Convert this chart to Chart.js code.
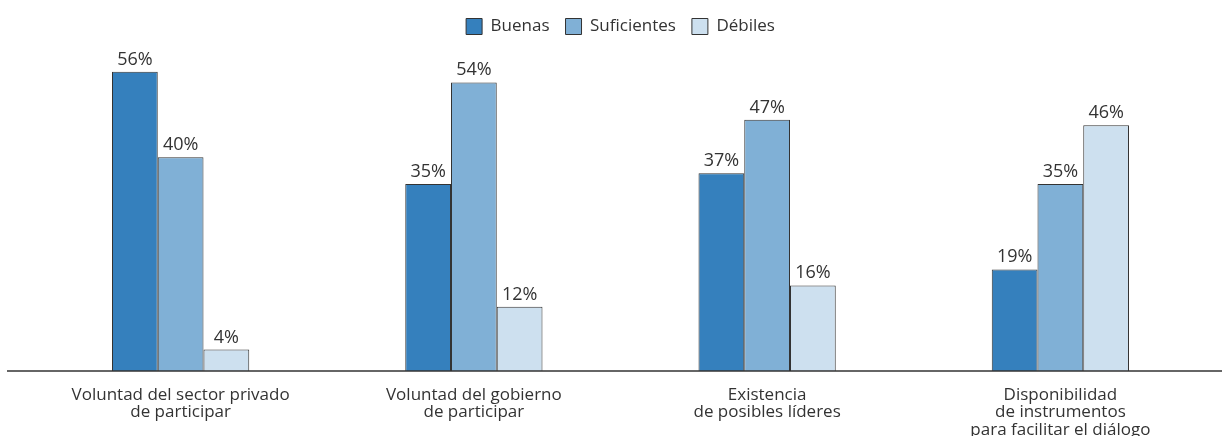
<!DOCTYPE html>
<html>
<head>
<meta charset="utf-8">
<script src="https://cdn.jsdelivr.net/npm/chart.js@4.4.1/dist/chart.umd.min.js"></script>
<style>
  html, body { margin: 0; padding: 0; background: #fff; }
  #wrap { width: 1222px; height: 436px; }
</style>
</head>
<body>
<div id="wrap"><canvas id="chart"></canvas></div>
<script>
const categories = [
    ['Voluntad del sector privado', 'de participar'],
    ['Voluntad del gobierno', 'de participar'],
    ['Existencia', 'de posibles líderes'],
    ['Disponibilidad', 'de instrumentos', 'para facilitar el diálogo']
];
const seriesNames = ['Buenas', 'Suficientes', 'Débiles'];
const buenas = [56, 35, 37, 19];
const suficientes = [40, 54, 47, 35];
const debiles = [4, 12, 16, 46];

const colors = ['#3580bd', '#80b0d6', '#cde0ef'];
const FONT = '"Open Sans", "Noto Sans", sans-serif';

// value labels above each bar
const valueLabels = {
    id: 'valueLabels',
    afterDatasetsDraw(chart) {
        const ctx = chart.ctx;
        ctx.save();
        ctx.font = '18px ' + FONT;
        ctx.fillStyle = '#333';
        ctx.textAlign = 'center';
        ctx.textBaseline = 'alphabetic';
        chart.data.datasets.forEach((ds, i) => {
            chart.getDatasetMeta(i).data.forEach((bar, j) => {
                ctx.fillText(ds.data[j] + '%', bar.x, bar.y - 7);
            });
        });
        ctx.restore();
    }
};

// baseline across the whole width
const baseLine = {
    id: 'baseLine',
    afterDatasetsDraw(chart) {
        const ctx = chart.ctx;
        const y = chart.scales.y.getPixelForValue(0);
        ctx.save();
        ctx.strokeStyle = '#333';
        ctx.lineWidth = 1.5;
        ctx.beginPath();
        ctx.moveTo(7, y);
        ctx.lineTo(chart.width, y);
        ctx.stroke();
        ctx.restore();
    }
};

new Chart(document.getElementById('chart'), {
    type: 'bar',
    data: {
        labels: categories,
        datasets: [
            { label: seriesNames[0], data: buenas, backgroundColor: colors[0] },
            { label: seriesNames[1], data: suficientes, backgroundColor: colors[1] },
            { label: seriesNames[2], data: debiles, backgroundColor: colors[2] }
        ].map(d => Object.assign(d, {
            borderColor: '#333',
            borderWidth: 1,
            barPercentage: 1,
            categoryPercentage: 0.468
        }))
    },
    options: {
        responsive: true,
        maintainAspectRatio: false,
        animation: false,
        layout: { padding: { left: 34, right: 15, top: 2, bottom: 0 } },
        plugins: {
            legend: {
                position: 'top',
                labels: {
                    font: { family: FONT, size: 17 },
                    color: '#333',
                    boxWidth: 16,
                    boxHeight: 16,
                    padding: 16,
                    generateLabels(chart) {
                        return chart.data.datasets.map((ds, i) => ({
                            text: ds.label,
                            fillStyle: ds.backgroundColor,
                            strokeStyle: '#333',
                            lineWidth: 1,
                            fontColor: '#333',
                            datasetIndex: i
                        }));
                    }
                }
            },
            tooltip: { enabled: false }
        },
        scales: {
            x: {
                grid: { display: false },
                border: { display: false },
                afterFit(scale) { scale.height = 65; },
                ticks: {
                    font: { family: FONT, size: 17, lineHeight: 1.04 },
                    color: '#333',
                    padding: 7,
                    maxRotation: 0
                }
            },
            y: {
                display: false,
                min: 0,
                max: 61
            }
        }
    },
    plugins: [valueLabels, baseLine]
});
</script>
</body>
</html>
